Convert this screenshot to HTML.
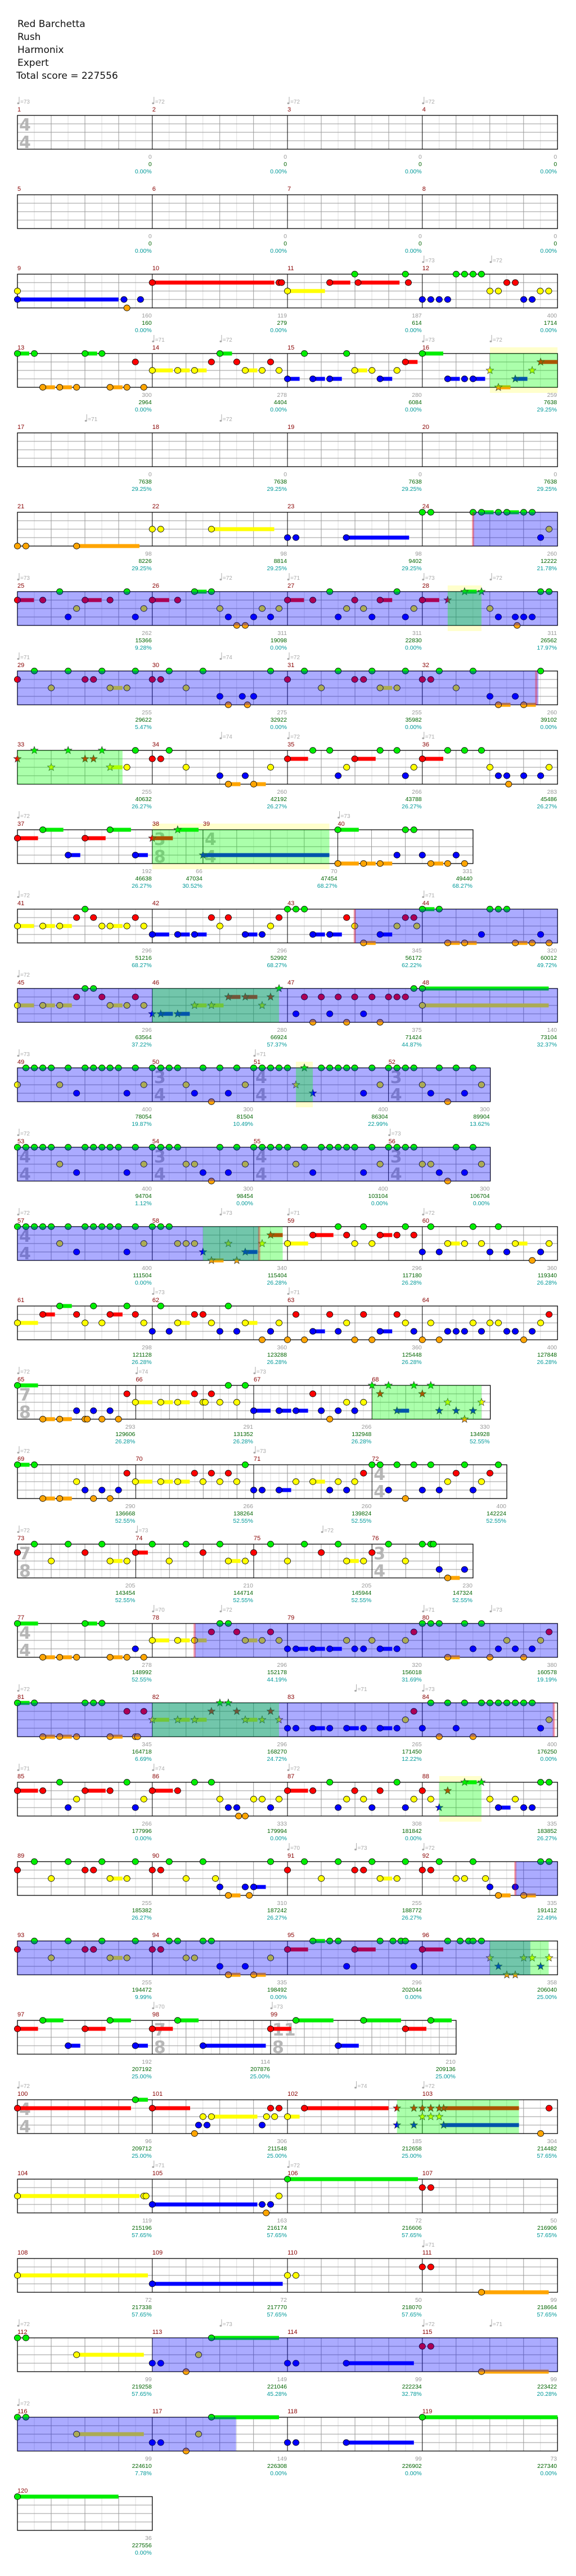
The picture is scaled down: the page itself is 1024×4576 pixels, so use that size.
<!DOCTYPE html>
<html><head><meta charset="utf-8"><style>
html,body{margin:0;padding:0;background:#fff;}
svg{display:block;}
</style></head><body>
<svg id="s" xmlns="http://www.w3.org/2000/svg" width="1024" height="4576" viewBox="0 0 1024 4576">
<rect width="1024" height="4576" fill="#fff"/>
<g font-family="DejaVu Sans, Liberation Sans, sans-serif" font-size="17" fill="#111">
<text x="31" y="48">Red Barchetta</text>
<text x="31" y="71">Rush</text>
<text x="31" y="94">Harmonix</text>
<text x="31" y="117">Expert</text>
<text x="29" y="140">Total score = 227556</text>
</g>
</svg>
<script>
var F=[48,415,783,1150,1518];
var rows=[
{n:1,b:F,ts:{0:'4/4'},t:[[48,'73'],[415,'72'],[783,'72'],[1150,'72']],s:[[0,0,'0.00%'],[0,0,'0.00%'],[0,0,'0.00%'],[0,0,'0.00%']],N:''},
{n:5,b:F,s:[[0,0,'0.00%'],[0,0,'0.00%'],[0,0,'0.00%'],[0,0,'0.00%']],N:''},
{n:9,b:F,t:[[1150,'73'],[1334,'72']],s:[[160,160,'0.00%'],[119,279,'0.00%'],[187,614,'0.00%'],[400,1714,'0.00%']],
N:'y48 b48-323 b338 b383 o346 r415-747 r760 r767 y783-885 r898-954 g966 r975-1088 g1104 r1112 g1242 g1265 g1288 g1311 r1380 r1403 y1334 y1357 y1471 y1494 b1150 b1173 b1196 b1219 b1426 b1449'},
{n:13,b:F,t:[[415,'71'],[599,'72'],[1150,'73'],[1334,'72']],G:[[1334,1518,1]],s:[[300,2964,'0.00%'],[278,4404,'0.00%'],[280,6084,'0.00%'],[259,7638,'29.25%']],
N:'g48-80 g94 g232-265 g278 o117-150 o163-196 o209 o300-334 o346 o392 r369 y415-471 y484-517 y530-563 g599-632 r576 r645 r737 y668-701 y714 y760 b783-816 b852-885 b898-931 g829 g944 y966-1000 y1013 y1081 b1035-1068 r1104-1137 g1150-1207 b1219-1252 b1265 b1288-1321 *y1334 *r1472-1518 *y1449 *b1403-1436 *o1357-1390'},
{n:17,b:F,t:[[232,'71'],[599,'72']],s:[[0,7638,'29.25%'],[0,7638,'29.25%'],[0,7638,'29.25%'],[0,7638,'29.25%']],N:''},
{n:21,b:F,B:[[1288,1518]],P:[1288],s:[[98,8226,'29.25%'],[98,8814,'29.25%'],[98,9402,'29.25%'],[260,12222,'21.78%']],
N:'o48 o71 o209-380 y415 y438 y576-747 b783 b806 b943-1114 g1150 g1173 g1288 g1311-1344 g1357 g1380-1413 g1426 g1449 y1495 b1472'},
{n:25,b:F,B:[[48,1518]],G:[[1219,1311,1]],t:[[48,'73'],[599,'72'],[783,'71'],[1150,'73'],[1334,'72']],s:[[262,15366,'9.28%'],[311,19098,'0.00%'],[311,22830,'0.00%'],[311,26562,'17.97%']],
N:'r48-93 g163 r117 y209 b186 r232-277 r300 g346 y392 b369 r415-461 r484 g530-563 g576 y599 b622 o645 o668 b691 y714 b737 y760 r783-828 r852 g898 b921 y944 r966 y990 b1013 r1035-1068 g1081 b1104 y1127 r1150-1196 *r1219 *g1265-1298 *g1311 y1334 b1357 b1403 o1408 b1426 b1449 g1472 g1495'},
{n:29,b:F,B:[[48,1466]],P:[1460],t:[[48,'71'],[599,'74'],[783,'72']],s:[[255,29622,'5.47%'],[275,32922,'0.00%'],[255,35982,'0.00%'],[260,39102,'0.00%']],
N:'r48 g94 y140 g186 r232 r255 g278 y300-334 y346 g369 r415 r438 g461 y507 g553 b599 o622 b660 o674 b691 g737 r783 g829 y875 g921 r966 r990 g1013 y1035-1068 y1081 g1104 r1150 r1173 g1196 y1242 g1288 b1334 o1357-1390 b1403 o1426-1459 g1472'},
{n:33,b:F,G:[[48,334,0]],t:[[599,'74'],[783,'72'],[1150,'71']],s:[[255,40632,'26.27%'],[260,42192,'26.27%'],[266,43788,'26.27%'],[283,45486,'26.27%']],
N:'*r48 *g94 *y140 *g186 *r232 *r255 *g278 *y300-334 g369 y346 r415 r438 g461 y507 b599 o622-655 b668 o691-724 y737 r783-839 g852 g898 b921 y944 r966-1023 g1035 g1081 b1104 y1127 r1150-1207 g1219 g1265 g1311 y1334 b1357 b1380 o1385 b1426 b1472 y1495'},
{n:37,b:[48,415,553,920,1288],ts:{1:'3/8',2:'4/4'},e:{1:1},G:[[415,897,1]],t:[[48,'72'],[920,'73']],s:[[192,46638,'26.27%'],[66,47034,'30.52%'],[70,47454,'68.27%'],[331,49440,'68.27%']],
N:'r48-104 g117-173 b186-219 r232-288 g300-357 b369-403 *r415-471 *g484-541 *b553-897 g920-977 o920-977 o990-1023 o1035-1068 b1081 g1104 g1127 b1150 o1173-1207 o1219 b1242 o1265'},
{n:41,b:F,B:[[966,1518]],P:[966],t:[[48,'72'],[1150,'71']],s:[[296,51216,'68.27%'],[296,52992,'68.27%'],[345,56172,'62.22%'],[320,60012,'49.72%']],
N:'y48-93 y117-150 y163-196 g232 r209 r255 y278 y300-334 y346 r369 y392 b415-461 b484-517 b530-563 r576 y599 r622 b668-701 b714 y737 r760 g783 g806 g829 b852-885 b898-931 r944 y966 o990-1023 b1035-1068 r1104 r1127 y1081 y1135 g1150-1183 g1196 o1219-1252 o1265-1298 b1311 g1334 g1357 g1380 o1403-1436 o1449 b1472 o1495'},
{n:45,b:F,B:[[48,1518]],G:[[415,760,0]],t:[[48,'72']],s:[[296,63564,'37.22%'],[280,66924,'57.37%'],[375,71424,'44.87%'],[140,73104,'32.37%']],
N:'y48-93 y117-150 y163-196 r209 g232 g255 r278 y300-334 y346 r369 y392 *b415 *b438-471 *b484-517 *y530-563 *y576-609 *r622-655 *r668-701 *y714 *r737 *g760 b806 r829 o852 r875 b898 r921 o944 r966 b990 r1013 o1035 r1058 r1081 r1104 g1127 g1150-1494 y1150-1494'},
{n:49,b:[48,415,691,1058,1335],ts:{1:'3/4',2:'4/4',3:'3/4'},B:[[48,1335]],G:[[806,852,1]],t:[[48,'73'],[691,'71']],s:[[400,78054,'19.87%'],[300,81504,'10.49%'],[400,86304,'22.99%'],[300,89904,'13.62%']],
N:'g71 g94 g117 g140 g186 g232 g255 g278 g300 g323 g369 g415 g438 g461 g484 g553 g599 g645 g691 g714 g737 g760 g783 *g829 g875 g898 g921 g944 g966 g1013 g1058 g1081 g1104 g1127 g1196 g1242 g1288 y48 y163 b209 b346 y392 y507 b530 o576 b622 y668 *y806 *b852 b990 y1035 y1150 b1173 o1219 b1265 y1311'},
{n:53,b:[48,415,691,1058,1335],ts:{0:'4/4',1:'3/4',2:'4/4',3:'3/4'},B:[[48,1335]],t:[[48,'72'],[1058,'73']],s:[[400,94704,'1.12%'],[300,98454,'0.00%'],[400,103104,'0.00%'],[300,106704,'0.00%']],
N:'g48 g71 g94 g117 g140 g186 g232 g255 g278 g300 g323 g369 g415 g438 g461 g484 g599 g645 g691 g714 g737 g760 g783 g829 g875 g898 g921 g944 g966 g1013 g1058 g1081 g1104 g1127 g1242 g1288 y163 b209 b346 y392 y507 y530 b553 o576 b622 y668 y806 b852 b990 y1035 y1150 y1173 b1196 o1219 b1265 y1311'},
{n:57,b:F,ts:{0:'4/4'},B:[[48,706]],G:[[553,770,0]],P:[706],t:[[48,'72'],[599,'73'],[783,'71'],[1150,'72']],s:[[400,111504,'0.00%'],[340,115404,'26.28%'],[296,117180,'26.28%'],[360,119340,'26.28%']],
N:'g48 g71 g94 g117 g140 g186 g232 g255 g278 g300 g323 g369 g415 g438 g461 y163 b209 b346 y392 y484 y507 y530 *b553 *o576-609 *y622 *o645 *b668-701 *y714 *r737-770 y783-839 r852-908 g921 r944 y966 g990 y1013 r1035-1068 r1081 g1104 r1127 b1150 g1173 b1196 y1219-1252 y1265 g1288 y1311 b1334 g1357 b1380 y1403-1436 o1449 b1472 y1495'},
{n:61,b:F,t:[[415,'73'],[783,'71']],s:[[298,121128,'26.28%'],[360,123288,'26.28%'],[360,125448,'26.28%'],[400,127848,'26.28%']],
N:'y48-104 r117-150 g163-196 r209 y232 g255 y278 r300-334 g346 r369 y392 b415 g438 b461 y484-517 r530 r553 y576 b599 g622 b645 y668-701 o714 b737 y760 o783 r806 o829 b852-885 r898 b921 y944 o966 r990 o1013 b1035-1068 r1081 y1104 b1127 o1150 y1173 o1196 b1219 b1242 b1265 y1288 b1311 y1334 y1357 b1380 b1403 o1426 b1449 y1472 r1495'},
{n:65,b:[48,370,691,1013,1335],ts:{0:'7/8'},e:{0:1,1:1,2:1,3:1},G:[[1013,1311,0]],t:[[48,'72'],[370,'74'],[691,'73']],s:[[293,129606,'26.28%'],[291,131352,'26.28%'],[266,132948,'26.28%'],[330,134928,'52.55%']],
N:'g48-104 o117-150 o163-196 b209 o232 o238 b255 o278 b300 o323 r346 y369-415 y438-471 y484-517 r530 y553 y559 r576 y599 g622 y645 g668 b691-737 b760-793 b806-839 r852 b875 o898 b921 y944 b966 y990 *g1013 *r1035 *g1058 *b1081-1114 *g1127 *r1150 *g1173 *b1196 *y1219 *b1242 *o1265 *b1288 *y1311'},
{n:69,b:[48,370,691,1013,1380],ts:{3:'4/4'},e:{0:1,1:1,2:1},t:[[48,'72'],[691,'73']],s:[[290,136668,'52.55%'],[266,138264,'52.55%'],[260,139824,'52.55%'],[400,142224,'52.55%']],
N:'g48-81 g94 o117-150 o163-196 y209 b232 o255 b278 o300 b323 r346 y369-415 y438-471 y484-517 r530 y553 r576 y599 r622 y645 g668 b691 b714 b760-793 y806 y852-885 b898 y921 b944 y966 r990 g1013 g1035 b1058 g1081 o1104 g1127 b1150 g1173 b1196 y1219 r1242 g1265 b1288 y1311 r1334 g1357'},
{n:73,b:[48,370,691,1013,1288],ts:{0:'7/8',3:'3/4'},e:{0:1,1:1,2:1},t:[[48,'72'],[370,'73'],[875,'72']],s:[[205,143454,'52.55%'],[210,144714,'52.55%'],[205,145944,'52.55%'],[230,147324,'52.55%']],
N:'r48 g94 y140 g186 r232 g278 y300-334 y346 r369-403 g415 y461 g507 r553 g599 y622-655 y668 r691 g737 y783 g829 r875 g921 y944-977 y990 r1013 g1058 y1104 g1150 g1173 g1180 b1196 o1219-1252 b1265'},
{n:77,b:F,ts:{0:'4/4'},B:[[530,1518]],P:[530],t:[[415,'70'],[599,'72'],[1150,'71'],[1334,'73']],s:[[278,148992,'52.55%'],[296,152178,'44.19%'],[320,156018,'31.69%'],[380,160578,'19.19%']],
N:'g48-104 o117-150 o163-196 o209 g232-265 g278 o300-334 o346 b369 o392 y415-461 y484-517 y530-563 r576 g599 g622 r645 y668-701 y714 r737 y760 b783 b806-839 b852-885 b898-931 y944 b966 b990 y1013 b1035-1068 b1081 y1104 r1127 g1150 g1173 g1196 o1219-1252 g1265 b1288 g1311 o1334 b1357 y1380 b1403 o1426 b1449 y1472 r1495'},
{n:81,b:F,B:[[48,1508]],G:[[415,760,0]],P:[1508],t:[[48,'72'],[966,'71'],[1150,'73']],s:[[345,164718,'6.69%'],[296,168270,'24.72%'],[265,171450,'12.22%'],[400,176250,'0.00%']],
N:'g48-81 g94 o117-150 o163-196 o209 g232 g255 g278 o300-334 r346 o369 o375 r392 *y415-461 *y484-517 *y530-563 *r576 *g599 *g622 *r645 *y668-701 *y714 *r737 *y760 b783 b806 b852-885 b898 b944-977 b990 b1035-1068 b1081 y1104 r1127 b1150 g1173 o1196 g1219 b1242 g1265 o1288 g1311 g1334 g1357 g1380 g1403 g1426 g1449 b1472 y1495'},
{n:85,b:F,G:[[1196,1311,1]],t:[[48,'71'],[415,'74'],[783,'72']],s:[[266,177996,'0.00%'],[333,179994,'0.00%'],[308,181842,'0.00%'],[335,183852,'26.27%']],
N:'r48-104 r117 g163 b186 y209 r232-288 r300 g346 b369 y392 r415-471 r484 g530 g576 y599 b622 b645 o650 o668 y691 y714 b737 y760 r783-839 r852 g898 b921 y944 r966 y990 b1013 r1035 g1081 b1104 y1127 r1150 y1173 *b1196 *r1219 *g1265-1298 *g1311 y1334 b1357-1390 y1403 b1426 b1449 g1472 g1495'},
{n:89,b:F,B:[[1403,1518]],P:[1403],t:[[783,'70'],[966,'73'],[1150,'72']],s:[[255,185382,'26.27%'],[310,187242,'26.27%'],[255,188772,'26.27%'],[335,191412,'22.49%']],
N:'r48 g94 y140 g186 r232 r255 g278 y300-334 y346 g369 r415 r438 g461 y507 g553 y587 b599 o622-655 b668 o679 b691-724 g737 r783 g829 y875 g921 r966 r990 g1013 y1035-1068 y1081 g1104 r1150 r1173 g1196 y1242 y1265 g1288 y1322 b1334 o1357-1390 b1403 o1426-1459 g1472 g1495'},
{n:93,b:F,B:[[48,1444]],G:[[1334,1494,0]],s:[[255,194472,'9.99%'],[335,198492,'0.00%'],[296,202044,'0.00%'],[358,206040,'25.00%']],
N:'r48 g94 y140 g186 r232 r255 g278 y300-334 y346 g369 r415 r438 g461 g484 y507 y530 g553 g576 b599 o622-655 b668 o691-724 y737 r783-839 g852-885 g898 g921 b944 r966-1023 g1035 g1070 g1092 g1104 b1127 r1150-1207 g1219 g1253 g1276 g1288 g1311 *y1334 *b1357 *o1380 *o1403 *y1426 *y1449 *b1472 *y1495'},
{n:97,b:[48,415,737,1242],ts:{1:'7/8',2:'11/8'},e:{1:1,2:1},t:[[415,'70'],[737,'73']],s:[[192,207192,'25.00%'],[114,207876,'25.00%'],[210,209136,'25.00%']],
N:'g117-173 g300-357 r48-104 r232-288 b186-219 b369-403 r415-471 g484-541 b553-724 r737-793 g806-908 b921-977 g990-1092 r1104-1161 g1173-1230'},
{n:100,b:F,ts:{0:'4/4'},G:[[1081,1413,0]],t:[[48,'72'],[966,'74'],[1150,'72']],s:[[96,209712,'25.00%'],[306,211548,'25.00%'],[185,212658,'25.00%'],[304,214482,'57.65%']],
N:'r48-357 g369-403 r415-518 o530 b541 y553 b564 y576-701 b714 y726 r737 y748 r760 y783-816 r829-1058 *r1081 *b1081 *r1127 *b1127 *r1150 *y1150 *r1173 *y1173 *r1196 *y1196 *r1208-1413 *b1208-1413 r1495 o1472'},
{n:104,b:F,t:[[415,'71'],[783,'72']],s:[[119,215196,'57.65%'],[163,216174,'57.65%'],[72,216606,'57.65%'],[50,216906,'57.65%']],
N:'y48-380 y392 y398 b415-701 b714 b737 o725 y760 g783-1138 r1150 r1173'},
{n:108,b:F,t:[[1150,'71']],s:[[72,217338,'57.65%'],[72,217770,'57.65%'],[50,218070,'57.65%'],[99,218664,'57.65%']],
N:'y48-403 b415-770 y783 y806 r1150 r1173 o1311-1494'},
{n:112,b:F,B:[[415,1518]],t:[[48,'72'],[599,'73'],[1150,'72'],[1334,'71']],s:[[99,219258,'57.65%'],[149,221046,'45.28%'],[99,222234,'32.78%'],[99,223422,'20.28%']],
N:'g48 g71 y209-392 b415 b438 o507 y541 g576-760 b783 b806 b943-1127 r1150 r1173 o1311-1494'},
{n:116,b:F,B:[[48,643]],t:[[48,'72']],s:[[99,224610,'7.78%'],[149,226308,'0.00%'],[99,226902,'0.00%'],[73,227340,'0.00%']],
N:'g48 g71 y209-392 b415 b438 o507 y541 g576-760 b783 b806 b943-1127 g1150-1518'},
{n:120,b:[48,415],s:[[36,227556,'0.00%']],N:'g48-323'}
];
var C={g:'#00ee00',r:'#ff0000',y:'#ffff00',b:'#0000ff',o:'#ffa500'};
function X(d){return 31+(d-48)/1.531;}
var out=[];
function star(cx,cy,r,fill){var p=[];for(var i=0;i<10;i++){var a=-Math.PI/2+i*Math.PI/5,rr=i%2?r*0.42:r;p.push((cx+rr*Math.cos(a)).toFixed(1)+','+(cy+rr*Math.sin(a)).toFixed(1));}
return '<polygon points="'+p.join(' ')+'" fill="'+fill+'" stroke="#333" stroke-width="0.7"/>';}
rows.forEach(function(R,i){
 var top=205+i*141,bot=top+60;
 var bx=R.b.map(X);var x0=bx[0],x1=bx[bx.length-1];
 // yellow backs
 (R.G||[]).forEach(function(g){if(g[2])out.push('<rect x="'+X(g[0])+'" y="'+(top-11)+'" width="'+(X(g[1])-X(g[0]))+'" height="81" fill="#ffffcc"/>');});
 out.push('<rect x="'+x0+'" y="'+top+'" width="'+(x1-x0)+'" height="60" fill="#fff"/>');
 // grid
 for(var m=0;m<bx.length-1;m++){
  var a=bx[m],b=bx[m+1],e=R.e&&R.e[m];
  if(e){for(var x=a+15;x<b-1;x+=15)out.push('<line x1="'+x+'" y1="'+top+'" x2="'+x+'" y2="'+bot+'" stroke="#e2e2e2"/>');}
  for(var x=a+30;x<b-1;x+=60)out.push('<line x1="'+x+'" y1="'+top+'" x2="'+x+'" y2="'+bot+'" stroke="#dddddd"/>');
  for(var x=a+60;x<b-1;x+=60)out.push('<line x1="'+x+'" y1="'+top+'" x2="'+x+'" y2="'+bot+'" stroke="#999"/>');
 }
 for(var k=1;k<4;k++)out.push('<line x1="'+x0+'" y1="'+(top+15*k)+'" x2="'+x1+'" y2="'+(top+15*k)+'" stroke="#999"/>');
 for(var m=1;m<bx.length-1;m++)out.push('<line x1="'+bx[m]+'" y1="'+top+'" x2="'+bx[m]+'" y2="'+bot+'" stroke="#000"/>');
 out.push('<rect x="'+x0+'" y="'+top+'" width="'+(x1-x0)+'" height="60" fill="none" stroke="#000" stroke-width="1.3"/>');
 // time sigs
 if(R.ts)for(var k in R.ts){var p=R.ts[k].split('/'),tx=bx[k]+3;
  out.push('<text x="'+tx+'" y="'+(top+27)+'" font-family="DejaVu Sans, sans-serif" font-weight="bold" font-size="30" fill="#aaa" fill-opacity="0.85">'+p[0]+'</text>');
  out.push('<text x="'+tx+'" y="'+(top+58)+'" font-family="DejaVu Sans, sans-serif" font-weight="bold" font-size="30" fill="#aaa" fill-opacity="0.85">'+p[1]+'</text>');}
 // notes
 var toks=R.N?R.N.split(' '):[],bars=[],heads=[];
 toks.forEach(function(t){var mm=t.match(/(\*?)([grybo])(\d+)(?:-(\d+))?/);if(!mm)return;
  var L='grybo'.indexOf(mm[2]),y=top+L*15,x=X(+mm[3]);
  if(mm[4])bars.push('<rect x="'+x+'" y="'+(y-3.5)+'" width="'+(X(+mm[4])-x)+'" height="7" fill="'+C[mm[2]]+'"/>');
  heads.push(mm[1]?star(x,y,7,C[mm[2]]):'<ellipse cx="'+x+'" cy="'+y+'" rx="5.6" ry="5.3" fill="'+C[mm[2]]+'" stroke="#000" stroke-width="0.8"/>');});
 out.push(bars.join(''));out.push(heads.join(''));
 // overlays
 (R.B||[]).forEach(function(g){out.push('<rect x="'+X(g[0])+'" y="'+top+'" width="'+(X(g[1])-X(g[0]))+'" height="60" fill="#0000ff" fill-opacity="0.33"/>');});
 (R.G||[]).forEach(function(g){out.push('<rect x="'+X(g[0])+'" y="'+top+'" width="'+(X(g[1])-X(g[0]))+'" height="60" fill="#00ff00" fill-opacity="0.33"/>');});
 (R.P||[]).forEach(function(p){out.push('<rect x="'+(X(p)-2)+'" y="'+top+'" width="4" height="60" fill="#ff0000" fill-opacity="0.33"/>');});
 // labels
 for(var m=0;m<bx.length-1;m++)out.push('<text x="'+bx[m]+'" y="'+(top-7)+'" font-size="11" fill="#880000">'+(R.n+m)+'</text>');
 (R.t||[]).forEach(function(t){var x=X(t[0]);
  out.push('<line x1="'+(x+3)+'" y1="'+(top-33)+'" x2="'+(x+3)+'" y2="'+(top-22)+'" stroke="#aaa" stroke-width="1"/><ellipse cx="'+(x+1.5)+'" cy="'+(top-21.5)+'" rx="2" ry="1.6" fill="#aaa"/><text x="'+(x+5)+'" y="'+(top-21)+'" font-size="10" fill="#aaa">='+t[1]+'</text>');});
 R.s.forEach(function(s,m){var x=bx[m+1]-1;
  out.push('<text x="'+x+'" y="'+(top+77)+'" font-size="10.5" fill="#999" text-anchor="end">'+s[0]+'</text>');
  out.push('<text x="'+x+'" y="'+(top+90)+'" font-size="10.5" fill="#006400" text-anchor="end">'+s[1]+'</text>');
  out.push('<text x="'+x+'" y="'+(top+103)+'" font-size="10.5" fill="#009999" text-anchor="end">'+s[2]+'</text>');});
});
var g=document.createElementNS('http://www.w3.org/2000/svg','g');
g.setAttribute('font-family','Liberation Sans, DejaVu Sans, sans-serif');
g.innerHTML=out.join('');
document.getElementById('s').appendChild(g);
</script>
</body></html>
